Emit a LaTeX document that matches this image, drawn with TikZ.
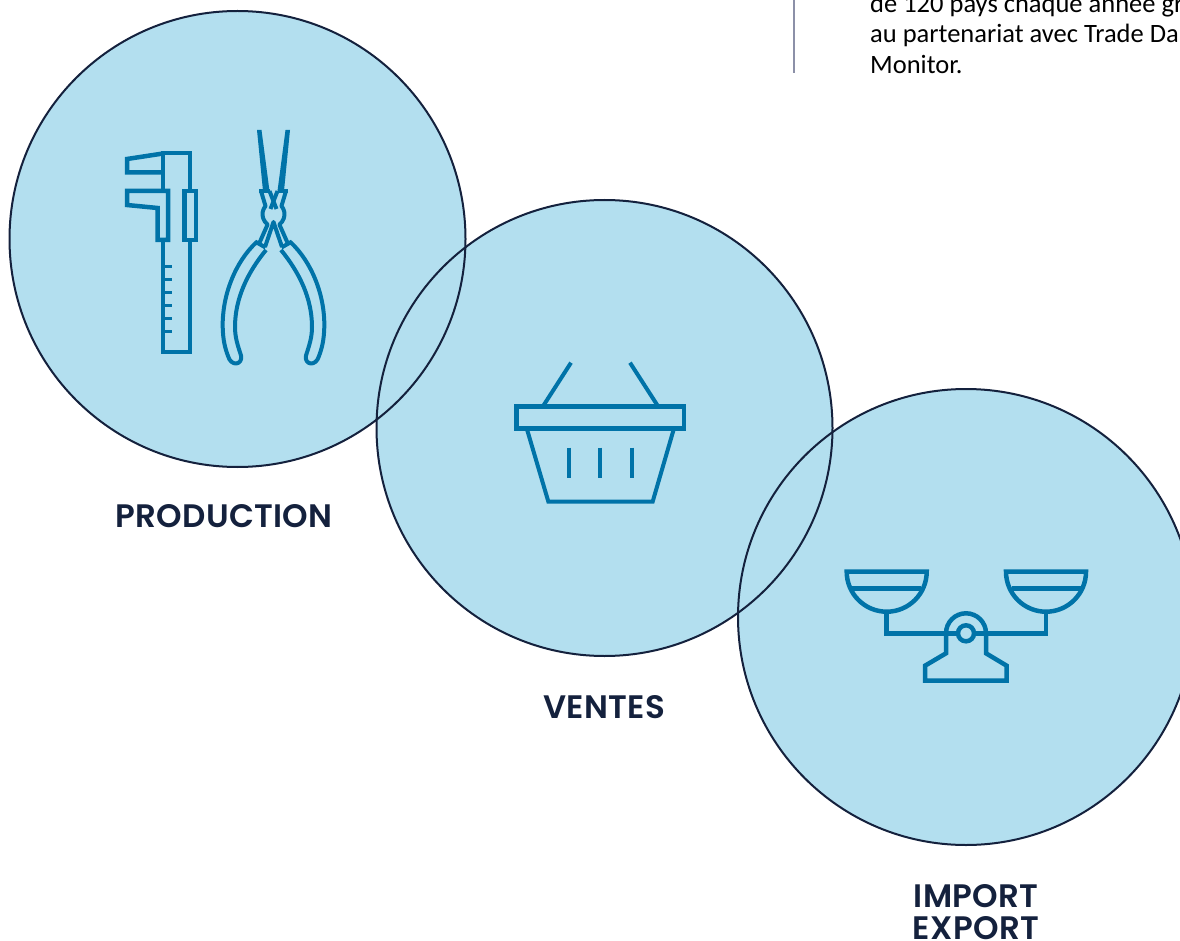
\documentclass[tikz,border=0pt]{standalone}
\usepackage{fontspec}
\setmainfont{Carlito}
\newfontfamily\labelfont[LetterSpace=1.0]{Poppins SemiBold}
\definecolor{disc}{HTML}{B3DFEF}
\definecolor{navy}{HTML}{14213D}
\definecolor{icon}{HTML}{0073A8}
\definecolor{rule}{HTML}{8C90A8}
\tikzset{
 discfill/.style={fill=disc,draw=none},
 discline/.style={draw=navy,line width=2pt},
 iconline/.style={draw=icon,line width=4.5pt,line join=miter,line cap=butt},
 thinicon/.style={draw=icon,line width=4pt,line join=miter,line cap=butt},
 stagelabel/.style={font=\labelfont\fontsize{32.5}{34}\selectfont,text=navy,anchor=base,inner sep=0pt},
 bodytext/.style={font=\fontsize{26.5}{32}\selectfont,text=black,anchor=base west,inner sep=0pt}
}
\begin{document}
\begin{tikzpicture}[x=1pt,y=-1pt]
\useasboundingbox (0,0) rectangle (1180,941);
\fill[white] (0,0) rectangle (1180,941);
% discs
\fill[discfill] (237.5,239) circle[radius=228];
\fill[discfill] (604.5,428) circle[radius=228];
\fill[discfill] (966,617) circle[radius=228];
\draw[discline] (237.5,239) circle[radius=228];
\draw[discline] (604.5,428) circle[radius=228];
\draw[discline] (966,617) circle[radius=228];
% text top right
\draw[draw=rule,line width=1.5pt] (794,0) -- (794,73);
\node[bodytext] (t1) at (870,12.7) {de 120 pays chaque année gr};
\node[bodytext] (t2) at (870,43) {au partenariat avec Trade Da};
\node[bodytext] (t3) at (870,74) {Monitor.};
% labels
\node[stagelabel] (l1) at (224,527) {PRODUCTION};
\node[stagelabel] (l2) at (604,718) {VENTES};
\node[stagelabel] (l3) at (976,907) {IMPORT};
\node[stagelabel] (l4) at (976,939.5) {EXPORT};
% caliper
\draw[iconline] (163,191) -- (163,153) -- (190,153) -- (190,191);
\draw[iconline] (163,153.5) -- (127,159) -- (127,172.5) -- (163,172.5);
\draw[iconline] (127,191) -- (168,191) -- (168,240) -- (157.5,240) -- (157.5,208) -- (127,205) -- cycle;
\draw[iconline] (184.5,191) rectangle (196,240);
\draw[iconline] (163,240) -- (163,352) -- (190,352) -- (190,240);
\foreach \yy in {266.7,279.3,292.3,305.7,318.3,331.3}
  \draw[draw=icon,line width=3pt] (163,\yy) -- (172,\yy);
% pliers jaws
\fill[icon] (257,130) -- (261.5,130) -- (269.5,191) -- (263,191) -- cycle;
\fill[icon] (290,130) -- (285.5,130) -- (277.5,191) -- (284,191) -- cycle;
\draw[thinicon] (259,191) -- (269.5,191);
\draw[thinicon] (277.5,191) -- (288,191);
\draw[thinicon,line join=round] (261,191) -- (265.5,206) arc[start angle=220,end angle=127,radius=12.8] -- (258.5,245);
\draw[thinicon,line join=round] (286,191) -- (281.5,206) arc[start angle=-40,end angle=53,radius=12.8] -- (288.5,245);
\draw[thinicon] (269.5,191) -- (276.5,209);
\draw[thinicon] (277.5,191) -- (270.5,209);
\draw[thinicon,line join=round] (265,247) -- (273.5,222) -- (282,247);
\draw[thinicon] (255,241.5) -- (265.5,247.5);
\draw[thinicon] (292,241.5) -- (281.5,247.5);
% handles
\draw[thinicon,line join=round] (256.7,242) .. controls (235,262) and (222,296) .. (222.7,327) .. controls (223,340) and (225,348) .. (228,356) .. controls (231,367) and (243,365) .. (241,355.5) .. controls (238,346) and (235,338) .. (235,327) .. controls (235,298) and (248,272) .. (266,250);
\draw[thinicon,line join=round] (290.3,242) .. controls (312,262) and (325,296) .. (324.3,327) .. controls (324,340) and (322,348) .. (319,356) .. controls (316,367) and (304,365) .. (306,355.5) .. controls (309,346) and (312,338) .. (312,327) .. controls (312,298) and (299,272) .. (281,250);
% basket
\draw[iconline] (516.7,406.7) rectangle (684,428.3);
\draw[thinicon] (542.7,406.7) -- (571,362.7);
\draw[thinicon] (658.3,406.7) -- (630,362.7);
\draw[thinicon] (526.7,428.3) -- (548.3,501.5) -- (652.7,501.5) -- (674,428.3);
\foreach \xx in {569,600.3,631.7}
  \draw[thinicon] (\xx,447.7) -- (\xx,478.3);
% scale
\draw[iconline] (846.7,571.7) -- (926.7,571.7) arc[start angle=0,end angle=180,radius=40] -- cycle;
\draw[iconline] (1006,571.7) -- (1086,571.7) arc[start angle=0,end angle=180,radius=40] -- cycle;
\draw[iconline] (852,588.3) -- (921,588.3);
\draw[iconline] (1011.5,588.3) -- (1080.5,588.3);
\draw[iconline] (886.7,611.7) -- (886.7,633.3) -- (958,633.3);
\draw[iconline] (1046,611.7) -- (1046,633.3) -- (974,633.3);
\draw[iconline] (946,633.3) arc[start angle=180,end angle=360,radius=20] -- (986,653.3) -- (1006.7,665.7) -- (1006.7,680.7) -- (925,680.7) -- (925,665.7) -- (946,653.3) -- cycle;
\draw[iconline] (966,633.3) circle[radius=8];
\end{tikzpicture}
\end{document}
